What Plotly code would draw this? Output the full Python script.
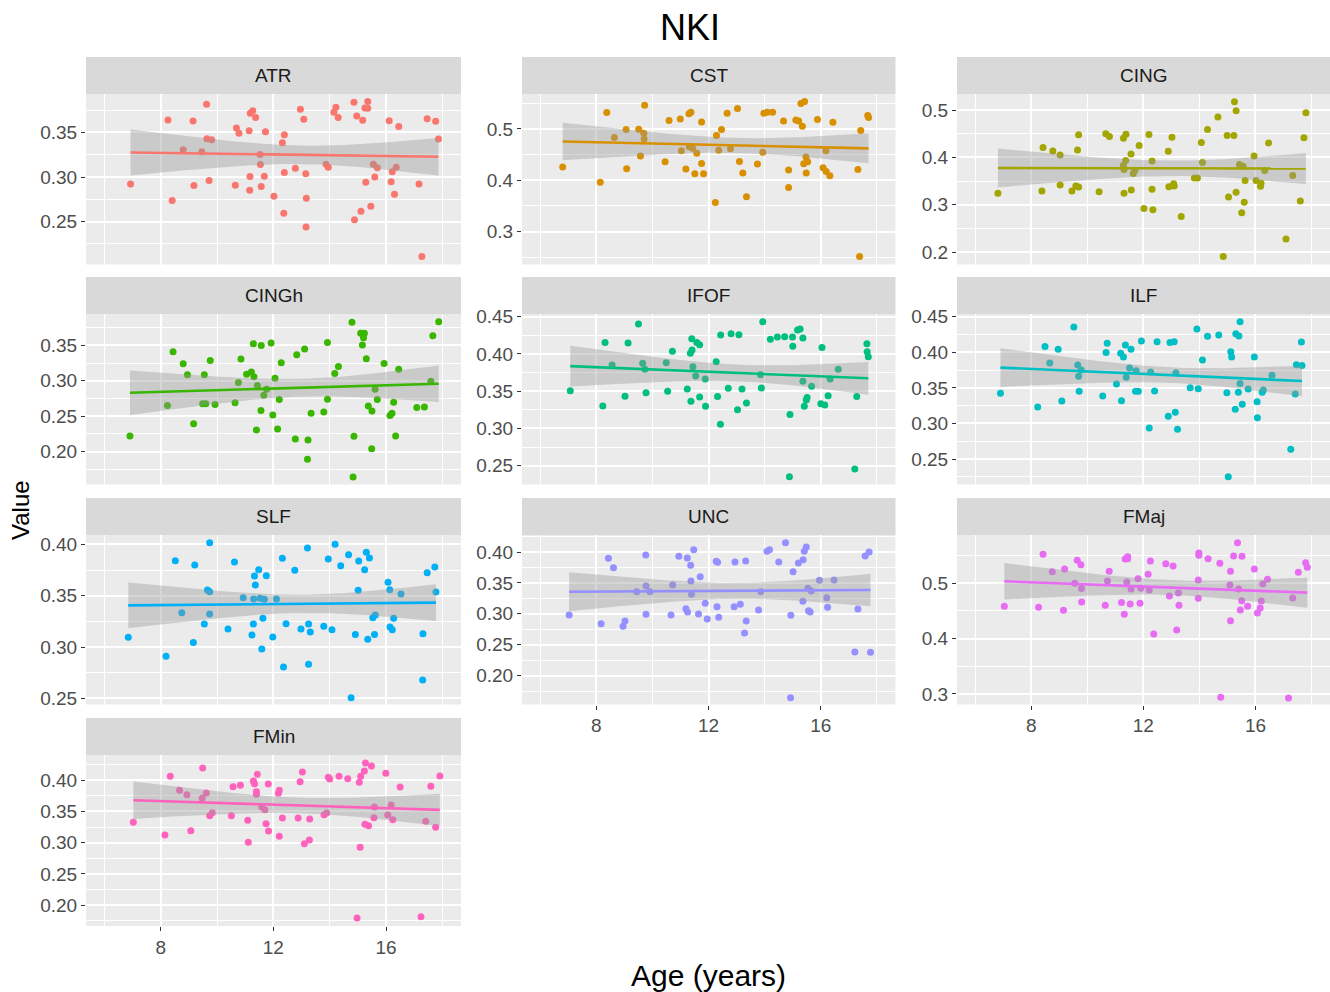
import numpy as np
import plotly.graph_objects as go

# ---------------- data ----------------
tracts = ["ATR", "CST", "CING", "CINGh", "IFOF", "ILF", "SLF", "UNC", "FMaj", "FMin"]
colors = ["#F8766D", "#D89000", "#A3A500", "#39B600", "#00BF7D",
          "#00BFC4", "#00B0F6", "#9590FF", "#E76BF3", "#FF62BC"]

atr_age = [6.93, 8.26, 8.41, 8.80, 9.15, 9.18, 9.46, 9.63, 9.64, 9.81, 9.72, 10.65, 10.69, 10.78, 11.14, 11.16, 11.18, 11.27, 11.37, 11.17,
           11.53, 11.54, 11.57, 11.68, 11.72, 12.02, 12.32, 12.39, 12.39, 12.37, 12.78, 12.96, 13.08, 13.15, 13.17, 13.16, 13.87, 13.95, 14.15, 14.22,
           14.30, 14.86, 14.96, 14.88, 15.11, 15.17, 15.25, 15.35, 15.35, 15.28, 15.46, 15.55, 15.69, 15.60, 16.11, 16.18, 16.22, 16.30, 16.36, 16.45,
           17.17, 17.27, 17.46, 17.76, 17.86]
atr_val = [0.2923, 0.3639, 0.2736, 0.3305, 0.3627, 0.2904, 0.3283, 0.3815, 0.3429, 0.3418, 0.2961, 0.2908, 0.3549, 0.3489, 0.3519, 0.2852, 0.3713, 0.3743, 0.3668, 0.3006,
           0.3253, 0.3141, 0.2893, 0.3010, 0.3507, 0.2785, 0.3384, 0.3474, 0.3051, 0.2594, 0.3099, 0.3758, 0.3646, 0.3036, 0.2762, 0.2440, 0.3144, 0.3110, 0.3725, 0.3781,
           0.3668, 0.3837, 0.3683, 0.2522, 0.2616, 0.3635, 0.3773, 0.3845, 0.3770, 0.2942, 0.2672, 0.3144, 0.3103, 0.3000, 0.3631, 0.2946, 0.3058, 0.2807, 0.3110, 0.3567,
           0.2923, 0.2110, 0.3654, 0.3624, 0.3425]

cst_age = [6.80, 8.14, 8.37, 8.64, 9.06, 9.08, 9.51, 9.57, 9.69, 9.70, 9.72, 10.45, 10.59, 10.99, 11.03, 11.19, 11.30, 11.37, 11.31, 11.43,
           11.51, 11.58, 11.75, 11.75, 11.82, 12.24, 12.28, 12.36, 12.46, 12.66, 12.78, 13.03, 13.10, 13.22, 13.35, 13.74, 13.93, 13.97, 14.09, 14.28,
           14.67, 14.85, 14.85, 15.11, 15.21, 15.29, 15.42, 15.34, 15.39, 15.47, 15.48, 15.53, 15.88, 16.08, 16.18, 16.19, 16.32, 16.43, 17.32, 17.38,
           17.42, 17.67, 17.70]
cst_val = [0.4257, 0.3964, 0.5319, 0.4831, 0.4987, 0.4225, 0.4993, 0.4472, 0.4915, 0.4805, 0.5463, 0.4362, 0.5163, 0.5195, 0.4577, 0.4218, 0.5293, 0.5326, 0.4655, 0.4622,
           0.4127, 0.4524, 0.4329, 0.5137, 0.4127, 0.3567, 0.4870, 0.4583, 0.4987, 0.5306, 0.4616, 0.5397, 0.4368, 0.4140, 0.3678, 0.4316, 0.4544, 0.5306, 0.5326, 0.5326,
           0.5156, 0.4199, 0.3860, 0.5176, 0.5156, 0.5495, 0.5534, 0.5052, 0.4322, 0.4453, 0.4140, 0.4362, 0.5182, 0.4244, 0.4577, 0.4173, 0.4088, 0.5130, 0.4212, 0.2518,
           0.4967, 0.5261, 0.5221]

cing_age = [6.81, 8.38, 8.42, 8.77, 9.03, 9.03, 9.45, 9.59, 9.69, 9.65, 9.69, 10.42, 10.66, 10.79, 11.29, 11.38, 11.29, 11.31, 11.37, 11.31,
            11.56, 11.57, 11.64, 11.70, 11.85, 12.02, 12.20, 12.31, 12.31, 12.34, 12.89, 12.91, 13.02, 13.08, 13.10, 13.35, 13.82, 13.93, 14.07, 14.11,
            14.29, 14.66, 14.85, 14.99, 15.04, 15.23, 15.25, 15.31, 15.31, 15.43, 15.51, 15.56, 15.60, 15.63, 15.95, 16.02, 16.18, 16.20, 16.33, 16.47,
            17.09, 17.33, 17.60, 17.73, 17.80]
cing_val = [0.3243, 0.3292, 0.4210, 0.4139, 0.4054, 0.3419, 0.3292, 0.3398, 0.3377, 0.4160, 0.4478, 0.3278, 0.4499, 0.4442, 0.4407, 0.4492, 0.3836, 0.3744, 0.3934, 0.3243,
            0.4075, 0.3313, 0.3659, 0.3730, 0.4252, 0.2925, 0.4485, 0.3927, 0.3327, 0.2897, 0.4132, 0.3384, 0.4428, 0.3447, 0.3398, 0.2756, 0.3568, 0.3568, 0.4315, 0.3892,
            0.4591, 0.4852, 0.1909, 0.4464, 0.3165, 0.4464, 0.5176, 0.4986, 0.3264, 0.3850, 0.2833, 0.3814, 0.3052, 0.3511, 0.4033, 0.3511, 0.3391, 0.3455, 0.3723, 0.4308,
            0.2276, 0.3617, 0.3080, 0.4414, 0.4944]

cingh_age = [6.91, 8.24, 8.44, 8.80, 8.95, 9.17, 9.55, 9.49, 9.60, 9.76, 9.93, 10.64, 10.76, 10.85, 11.05, 11.22, 11.29, 11.31, 11.40, 11.43,
             11.56, 11.57, 11.66, 11.76, 11.92, 11.98, 12.06, 12.15, 12.21, 12.28, 12.78, 12.83, 13.11, 13.23, 13.21, 13.34, 13.79, 13.92, 13.92, 14.18,
             14.31, 14.79, 14.86, 14.83, 15.10, 15.23, 15.20, 15.16, 15.30, 15.37, 15.50, 15.49, 15.61, 15.69, 15.93, 16.14, 16.21, 16.27, 16.34, 16.45,
             17.09, 17.36, 17.59, 17.66, 17.87]
cingh_val = [0.2222, 0.2651, 0.3410, 0.3241, 0.3085, 0.2396, 0.3085, 0.2675, 0.2675, 0.3288, 0.2665, 0.2689, 0.2976, 0.3307, 0.3094, 0.3123, 0.3524, 0.3057, 0.2307, 0.2934,
             0.2580, 0.3500, 0.2797, 0.2882, 0.3533, 0.2519, 0.3038, 0.2321, 0.2736, 0.3255, 0.2179, 0.3368, 0.3448, 0.2165, 0.1892, 0.2542, 0.2561, 0.3542, 0.2741, 0.3104,
             0.3203, 0.3825, 0.2217, 0.1642, 0.3670, 0.3670, 0.3608, 0.3505, 0.3311, 0.2646, 0.2575, 0.2042, 0.2882, 0.2736, 0.3245, 0.2509, 0.2542, 0.2698, 0.2222, 0.3165,
             0.2623, 0.2632, 0.2995, 0.3637, 0.3835]

ifof_age = [7.07, 8.23, 8.31, 8.56, 9.02, 9.13, 9.50, 9.65, 9.73, 9.77, 10.49, 10.54, 10.71, 11.24, 11.35, 11.41, 11.37, 11.40, 11.44, 11.54,
            11.58, 11.68, 11.68, 11.88, 11.89, 12.27, 12.32, 12.42, 12.43, 12.70, 12.80, 13.03, 13.08, 13.19, 13.35, 13.85, 13.88, 13.93, 14.20, 14.45,
            14.71, 14.90, 14.88, 14.99, 15.00, 15.17, 15.26, 15.36, 15.36, 15.41, 15.48, 15.51, 15.67, 16.04, 16.00, 16.14, 16.26, 16.33, 16.62, 17.21,
            17.28, 17.64, 17.65, 17.69]
ifof_val = [0.3507, 0.3301, 0.4155, 0.3851, 0.3431, 0.4147, 0.4402, 0.3874, 0.3793, 0.3480, 0.3883, 0.3498, 0.4036, 0.3529, 0.4009, 0.4053, 0.3364, 0.4205, 0.3829, 0.3704,
            0.4155, 0.4124, 0.3422, 0.3663, 0.3297, 0.3896, 0.3430, 0.3055, 0.4254, 0.3538, 0.4272, 0.3252, 0.4258, 0.3529, 0.3341, 0.3721, 0.3542, 0.4433, 0.4196, 0.4227,
            0.4232, 0.3189, 0.2352, 0.4227, 0.4102, 0.4321, 0.4334, 0.4214, 0.3632, 0.3297, 0.3381, 0.3417, 0.3565, 0.4088, 0.3332, 0.3314, 0.3440, 0.3663, 0.3793, 0.2455,
            0.3430, 0.4138, 0.4030, 0.3963]

ilf_age = [6.90, 8.23, 8.49, 8.66, 8.96, 9.09, 9.52, 9.66, 9.69, 9.71, 9.78, 10.55, 10.67, 10.71, 11.04, 11.19, 11.22, 11.29, 11.36, 11.39,
           11.51, 11.56, 11.72, 11.74, 11.82, 11.93, 12.21, 12.26, 12.40, 12.49, 12.89, 12.95, 13.10, 13.14, 13.16, 13.22, 13.67, 13.91, 13.96, 14.11,
           14.29, 14.69, 14.98, 15.03, 15.12, 15.15, 15.28, 15.30, 15.41, 15.45, 15.39, 15.45, 15.53, 15.74, 15.96, 16.06, 16.07, 16.24, 16.28, 16.59,
           17.26, 17.42, 17.46, 17.64, 17.66]
ilf_val = [0.3423, 0.3231, 0.4083, 0.3849, 0.4041, 0.3315, 0.4355, 0.3821, 0.3662, 0.3451, 0.3751, 0.3385, 0.3996, 0.4126, 0.3554, 0.3987, 0.3320, 0.3934, 0.4102, 0.3648,
           0.3779, 0.4041, 0.3451, 0.3741, 0.3451, 0.4158, 0.2936, 0.3722, 0.3456, 0.4149, 0.3102, 0.4139, 0.4149, 0.3156, 0.3713, 0.2917, 0.3500, 0.4327, 0.3488, 0.3891,
           0.4224, 0.4242, 0.3432, 0.2252, 0.4008, 0.3933, 0.3198, 0.4261, 0.4228, 0.4430, 0.3437, 0.3563, 0.3268, 0.3484, 0.3933, 0.3306, 0.3081, 0.3437, 0.3470, 0.3676,
           0.2636, 0.3413, 0.3826, 0.4144, 0.3816]

slf_age = [6.85, 8.19, 8.52, 8.75, 9.16, 9.21, 9.55, 9.66, 9.74, 9.74, 9.74, 10.39, 10.62, 10.93, 11.24, 11.29, 11.30, 11.33, 11.36, 11.48,
           11.53, 11.59, 11.63, 11.68, 11.75, 11.98, 12.11, 12.32, 12.36, 12.45, 12.76, 12.98, 13.21, 13.25, 13.31, 13.25, 13.79, 13.95, 14.08, 14.19,
           14.39, 14.67, 14.76, 14.91, 15.01, 15.03, 15.24, 15.30, 15.35, 15.41, 15.53, 15.59, 15.62, 16.07, 16.13, 16.14, 16.22, 16.27, 16.53, 17.31,
           17.30, 17.46, 17.73, 17.77]
slf_val = [0.3094, 0.2909, 0.3841, 0.3334, 0.3045, 0.3799, 0.3224, 0.3555, 0.4016, 0.3539, 0.3321, 0.3175, 0.3828, 0.3481, 0.3117, 0.3224, 0.3468, 0.3692, 0.3604, 0.3753,
           0.3474, 0.2981, 0.3279, 0.3464, 0.3695, 0.3097, 0.3468, 0.3864, 0.2805, 0.3227, 0.3747, 0.3175, 0.3964, 0.3224, 0.3146, 0.2831, 0.3201, 0.3857, 0.3169, 0.4000,
           0.3792, 0.3899, 0.2506, 0.3123, 0.3552, 0.3838, 0.3753, 0.3922, 0.3075, 0.3867, 0.3286, 0.3123, 0.3312, 0.3630, 0.3558, 0.3195, 0.3169, 0.3279, 0.3516, 0.3130,
           0.2679, 0.3724, 0.3779, 0.3536]

unc_age = [7.03, 8.17, 8.43, 8.61, 8.95, 9.02, 9.44, 9.76, 9.77, 9.77, 9.91, 10.66, 10.72, 10.94, 11.19, 11.24, 11.25, 11.36, 11.37, 11.39,
           11.47, 11.64, 11.70, 11.88, 11.95, 12.27, 12.32, 12.30, 12.36, 12.91, 12.94, 13.13, 13.28, 13.32, 13.34, 13.78, 13.86, 14.08, 14.17, 14.50,
           14.74, 14.93, 14.92, 15.01, 15.20, 15.36, 15.37, 15.41, 15.48, 15.54, 15.56, 15.62, 15.66, 15.95, 16.21, 16.24, 16.47, 17.21, 17.32, 17.58,
           17.72, 17.77]
unc_val = [0.2981, 0.2841, 0.3898, 0.3747, 0.2798, 0.2884, 0.3358, 0.3951, 0.3450, 0.2992, 0.3358, 0.2981, 0.3466, 0.3930, 0.3084, 0.3903, 0.3030, 0.3784, 0.3531, 0.3315,
           0.4038, 0.2997, 0.3601, 0.3170, 0.2916, 0.3849, 0.3833, 0.3116, 0.2943, 0.3116, 0.3838, 0.3154, 0.2690, 0.3854, 0.2884, 0.3062, 0.3358, 0.4011, 0.4038, 0.3838,
           0.4151, 0.2976, 0.1644, 0.3682, 0.3822, 0.3202, 0.3876, 0.4011, 0.4081, 0.3412, 0.3051, 0.3030, 0.3369, 0.3542, 0.3261, 0.3105, 0.3547, 0.2383, 0.3078, 0.3935,
           0.4000, 0.2377]

fmaj_age = [7.04, 8.26, 8.42, 8.75, 9.15, 9.19, 9.55, 9.64, 9.77, 9.79, 9.80, 10.64, 10.72, 10.78, 11.22, 11.32, 11.35, 11.44, 11.41, 11.44,
            11.53, 11.56, 11.81, 11.88, 11.91, 12.17, 12.21, 12.25, 12.37, 12.80, 12.93, 13.06, 13.19, 13.25, 13.27, 13.96, 13.96, 13.98, 13.98, 14.31,
            14.73, 14.76, 15.09, 15.11, 15.11, 15.22, 15.36, 15.40, 15.46, 15.51, 15.52, 15.72, 15.96, 16.07, 16.17, 16.21, 16.26, 16.43, 17.18, 17.33,
            17.53, 17.79, 17.85]
fmaj_val = [0.4584, 0.4566, 0.5524, 0.5211, 0.4512, 0.5259, 0.5000, 0.5416, 0.5337, 0.4904, 0.4663, 0.4602, 0.5042, 0.5217, 0.4651, 0.4440, 0.5440, 0.5482, 0.5024, 0.5446,
            0.4627, 0.4898, 0.5084, 0.4639, 0.4910, 0.5163, 0.4880, 0.5404, 0.4084, 0.5355, 0.4771, 0.5313, 0.4157, 0.4825, 0.4602, 0.4729, 0.5060, 0.5506, 0.5548, 0.5446,
            0.5361, 0.2940, 0.4970, 0.5217, 0.4325, 0.5494, 0.5735, 0.4898, 0.4518, 0.4687, 0.5488, 0.4584, 0.5259, 0.4464, 0.4554, 0.4681, 0.4988, 0.5072, 0.2928, 0.4735,
            0.5199, 0.5373, 0.5289]

fmin_age = [7.03, 8.15, 8.34, 8.67, 8.93, 9.07, 9.47, 9.49, 9.62, 9.74, 9.83, 10.51, 10.57, 10.83, 11.09, 11.11, 11.29, 11.33, 11.40, 11.40,
            11.43, 11.59, 11.70, 11.74, 11.82, 11.83, 12.18, 12.21, 12.21, 12.32, 12.88, 12.95, 13.03, 13.10, 13.28, 13.29, 13.80, 13.89, 13.95, 14.00,
            14.33, 14.64, 14.97, 15.05, 15.08, 15.10, 15.23, 15.27, 15.25, 15.38, 15.48, 15.57, 15.59, 15.99, 16.06, 16.18, 16.24, 16.50, 17.24, 17.41,
            17.59, 17.76, 17.91]
fmin_val = [0.3324, 0.3122, 0.4059, 0.3835, 0.3766, 0.3191, 0.3707, 0.4191, 0.3793, 0.3431, 0.3479, 0.3431, 0.3894, 0.3915, 0.3356, 0.3005, 0.3984, 0.3941, 0.3814, 0.3771,
            0.4090, 0.3569, 0.3527, 0.3303, 0.3936, 0.3186, 0.3787, 0.3835, 0.3101, 0.3394, 0.3394, 0.3973, 0.4128, 0.2984, 0.3043, 0.3378, 0.3447, 0.3473, 0.4043, 0.4016,
            0.4059, 0.4021, 0.1798, 0.3963, 0.2926, 0.4059, 0.4144, 0.4271, 0.3293, 0.3271, 0.4223, 0.3399, 0.3569, 0.4106, 0.3441, 0.3601, 0.3367, 0.3888, 0.1819, 0.3340,
            0.3899, 0.3245, 0.4064]

ages = [atr_age, cst_age, cing_age, cingh_age, ifof_age, ilf_age, slf_age, unc_age, fmaj_age, fmin_age]
vals = [atr_val, cst_val, cing_val, cingh_val, ifof_val, ilf_val, slf_val, unc_val, fmaj_val, fmin_val]

x_ticks = [8, 12, 16]

# ---------------- layout geometry ----------------
W, H = 1330, 992
col_px = [(86, 461), (522, 895.5), (957, 1330)]
row_px = [(94, 264.5), (314, 484.5), (535, 704.5), (755, 926)]
strip_h = 37
y_ranges = [(0.202, 0.393), (0.236, 0.568), (0.174, 0.534),
            (0.1537, 0.3943), (0.2248, 0.4536), (0.2142, 0.4538),
            (0.244, 0.4091), (0.1534, 0.4275), (0.281, 0.5873),
            (0.167, 0.4399)]
y_dticks = [0.05, 0.1, 0.1, 0.05, 0.05, 0.05, 0.05, 0.05, 0.1, 0.05]
x_range = [5.35, 18.66]
bottom_panels = {7, 8, 9}

FONT = "Liberation Sans, Arial, sans-serif"
TICK_FONT = dict(family=FONT, size=19, color="#4D4D4D")


def px_x(p):
    return p / W


def px_y(p):
    return 1 - p / H


def t_crit(df):
    z = 1.959964
    return z + (z ** 3 + z) / (4 * df) + (5 * z ** 5 + 16 * z ** 3 + 3 * z) / (96 * df ** 2)


fig = go.Figure()
shapes = []
annotations = []
layout_axes = {}

for i, name in enumerate(tracts):
    r, c = divmod(i, 3)
    k = i + 1
    xs_name = "x" if k == 1 else f"x{k}"
    ys_name = "y" if k == 1 else f"y{k}"
    n = min(len(ages[i]), len(vals[i]))
    a = np.array(ages[i][:n], dtype=float)
    v = np.array(vals[i][:n], dtype=float)

    # points
    fig.add_trace(go.Scatter(x=a, y=v, mode="markers",
                             marker=dict(color=colors[i], size=7, line=dict(width=0)),
                             xaxis=xs_name, yaxis=ys_name, showlegend=False, hoverinfo="x+y"))

    # linear fit + 95% confidence band (lm)
    slope, intercept = np.polyfit(a, v, 1)
    xg = np.linspace(a.min(), a.max(), 80)
    fit = intercept + slope * xg
    resid = v - (intercept + slope * a)
    s = np.sqrt(np.sum(resid ** 2) / (n - 2))
    sxx = np.sum((a - a.mean()) ** 2)
    se = s * np.sqrt(1.0 / n + (xg - a.mean()) ** 2 / sxx)
    tq = t_crit(n - 2)
    up, lo = fit + tq * se, fit - tq * se
    fig.add_trace(go.Scatter(x=np.concatenate([xg, xg[::-1]]), y=np.concatenate([up, lo[::-1]]),
                             fill="toself", fillcolor="rgba(153,153,153,0.4)", line=dict(width=0),
                             mode="lines", xaxis=xs_name, yaxis=ys_name, showlegend=False, hoverinfo="skip"))
    fig.add_trace(go.Scatter(x=xg, y=fit, mode="lines", line=dict(color=colors[i], width=2.6),
                             xaxis=xs_name, yaxis=ys_name, showlegend=False, hoverinfo="skip"))

    x0, x1 = col_px[c]
    top, bot = row_px[r]
    xkey = "xaxis" if k == 1 else f"xaxis{k}"
    ykey = "yaxis" if k == 1 else f"yaxis{k}"
    show_x = i in bottom_panels
    layout_axes[xkey] = dict(
        domain=[px_x(x0), px_x(x1)], anchor=ys_name, range=x_range, automargin=False,
        tickmode="array", tickvals=x_ticks, ticktext=[str(t) for t in x_ticks],
        showticklabels=show_x, ticks="outside" if show_x else "", ticklen=4, tickwidth=1, tickcolor="#333333",
        tickfont=TICK_FONT, showgrid=True, gridcolor="white", gridwidth=1.6, zeroline=False, showline=False,
        minor=dict(tickmode="linear", tick0=0, dtick=2, showgrid=True, gridcolor="white", gridwidth=0.7, ticks=""),
    )
    dt = y_dticks[i]
    layout_axes[ykey] = dict(
        domain=[px_y(bot), px_y(top)], anchor=xs_name, range=list(y_ranges[i]), automargin=False,
        tickmode="linear", tick0=0, dtick=dt, tickformat=".2f" if dt < 0.1 else ".1f",
        ticks="outside", ticklen=4, tickwidth=1, tickcolor="#333333", tickfont=TICK_FONT,
        showgrid=True, gridcolor="white", gridwidth=1.6, zeroline=False, showline=False,
        minor=dict(tickmode="linear", tick0=0, dtick=dt / 2, showgrid=True, gridcolor="white", gridwidth=0.7, ticks=""),
    )

    # strip
    shapes.append(dict(type="rect", xref="paper", yref="paper",
                       x0=px_x(x0), x1=px_x(x1), y0=px_y(top), y1=px_y(top - strip_h),
                       fillcolor="#D9D9D9", line=dict(width=0), layer="below"))
    annotations.append(dict(text=name, xref="paper", yref="paper",
                            x=px_x((x0 + x1) / 2), y=px_y(top - strip_h / 2),
                            xanchor="center", yanchor="middle", showarrow=False,
                            font=dict(family=FONT, size=19, color="#1A1A1A")))

annotations.append(dict(text="NKI", xref="paper", yref="paper", x=px_x(690), y=px_y(27),
                        xanchor="center", yanchor="middle", showarrow=False,
                        font=dict(family=FONT, size=36, color="black")))
annotations.append(dict(text="Age (years)", xref="paper", yref="paper", x=px_x(708), y=px_y(975),
                        xanchor="center", yanchor="middle", showarrow=False,
                        font=dict(family=FONT, size=30, color="black")))
annotations.append(dict(text="Value", xref="paper", yref="paper", x=px_x(20), y=px_y(510),
                        xanchor="center", yanchor="middle", showarrow=False, textangle=-90,
                        font=dict(family=FONT, size=24, color="black")))

fig.update_layout(width=W, height=H, margin=dict(l=0, r=0, t=0, b=0, pad=0, autoexpand=False),
                  paper_bgcolor="white", plot_bgcolor="#EBEBEB",
                  shapes=shapes, annotations=annotations, showlegend=False,
                  **layout_axes)

fig.write_html("out.html", config={"displayModeBar": False},
               post_script="var gd=document.getElementById('{plot_id}');"
                           "gd.style.position='fixed';gd.style.left='0px';gd.style.top='0px';"
                           "document.body.style.margin='0px';document.body.style.padding='0px';"
                           "document.documentElement.style.overflow='hidden';")
